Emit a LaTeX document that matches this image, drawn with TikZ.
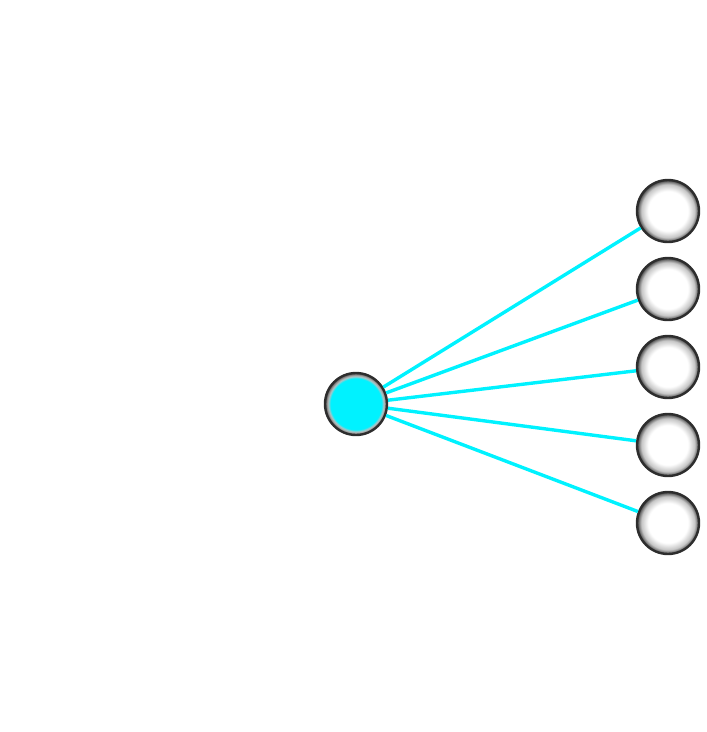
\documentclass[tikz,border=0pt]{standalone}
\usepackage{tikz}
\usepackage{xcolor}
\usetikzlibrary{arrows.meta,positioning,calc}
\definecolor{rimc}{RGB}{45,45,45}
\definecolor{linkc}{RGB}{0,242,255}
\definecolor{hubc}{RGB}{0,242,255}
\pgfdeclareradialshading{leafball}{\pgfpoint{0bp}{0bp}}{%
  color(0bp)=(white); color(16bp)=(white); color(21.5bp)=(gray!45);
  color(25bp)=(black!75); color(50bp)=(black!75)}
\pgfdeclareradialshading{hubball}{\pgfpoint{0bp}{0bp}}{%
  color(0bp)=(hubc); color(20.5bp)=(hubc); color(22.5bp)=(gray!50);
  color(25bp)=(black!70); color(50bp)=(black!70)}
\tikzset{
  ball/.style={circle,draw=rimc,line width=2.4pt,minimum size=62pt,inner sep=0pt},
  leafnode/.style={ball,shading=leafball},
  hubnode/.style={ball,shading=hubball},
  link/.style={linkc,line width=3.4pt}
}

\begin{document}
\begin{tikzpicture}[x=1pt,y=-1pt]
\useasboundingbox (0,0) rectangle (707,732);

% hub
\node[hubnode] (hub) at (356,404) {};

% leaves
\foreach \i/\y in {1/211,2/289,3/367,4/445,5/523}{
  \node[leafnode] (leaf\i) at (668,\y) {};
}
% links
\foreach \i in {1,...,5}{
  \draw[link] (hub) -- (leaf\i);
}

\end{tikzpicture}
\end{document}
